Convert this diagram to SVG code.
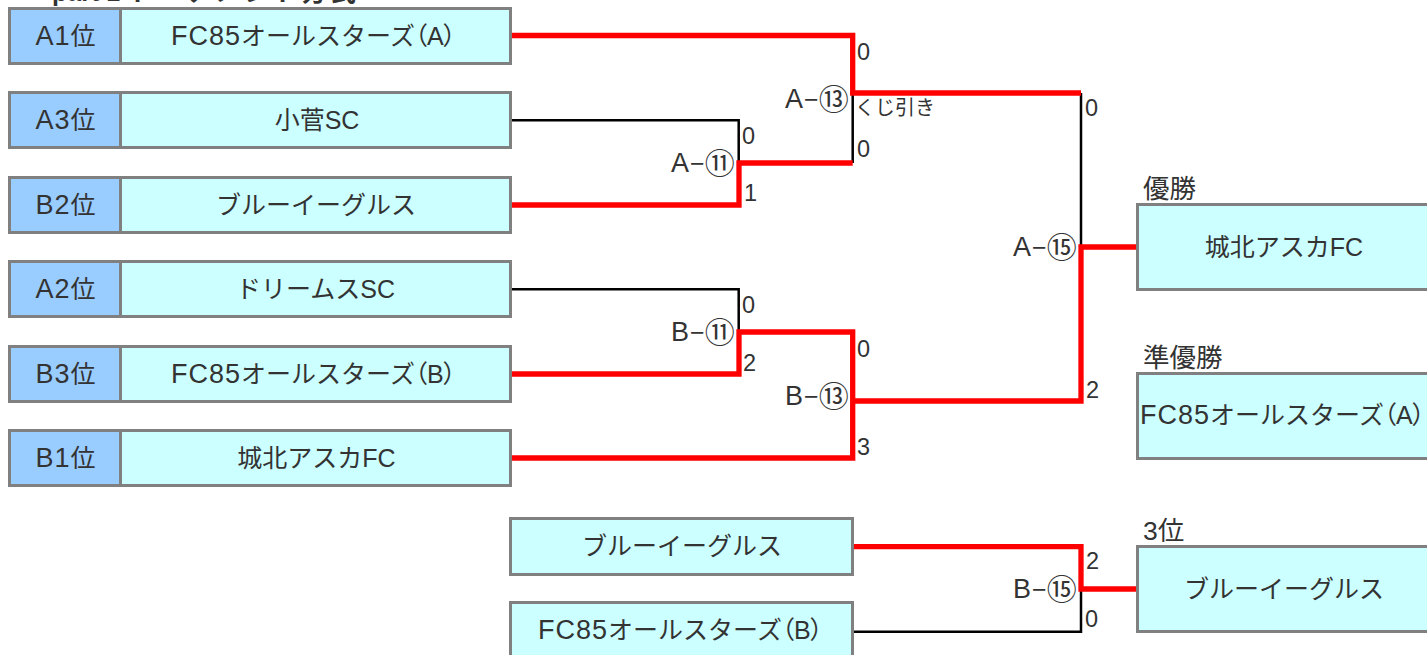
<svg xmlns="http://www.w3.org/2000/svg" width="1427" height="655" viewBox="0 0 1427 655">
<style>
text{font-family:"Liberation Sans","Noto Sans CJK JP",sans-serif;fill:#333;font-size:25px}
.m{text-anchor:middle}
.L{font-size:27px;letter-spacing:1px}
.c{font-size:30px}
.s{font-size:23.500px}
.j{font-size:20px}
.h{font-size:26.500px}
.t{font-weight:bold;font-size:25px}
.b{fill:#ccffff;stroke:#808080;stroke-width:3}
.l{fill:#99ccff;stroke:#808080;stroke-width:3}
.k{fill:none;stroke:#000;stroke-width:2.500}
.r{fill:none;stroke:#f00;stroke-width:5.300}
</style>
<rect width="1427" height="655" fill="#fff"/>
<text y="1" class="t"><tspan x="19" font-size="30">●</tspan><tspan x="52">part 1</tspan><tspan x="128" letter-spacing="4">トーナメント方式</tspan></text>
<g id="connectors">
<path class="k" d="M510 120.300H738.700V163M510 289.300H738.700V332M852.700 93V163M852.700 332V401M1081 93V247M852 631.700H1081V589"/>
<path class="r" d="M510 35.500H852.700V93H1081M510 205H739V163H852.700M510 374H739V332H852.700V401M510 458H852.700V401H1081V247H1138M852 546.700H1081V589H1138"/>
</g>
<g id="n1"><rect class="l" x="9.500" y="8.500" width="111" height="55"/><rect class="b" x="120.500" y="8.500" width="390" height="55"/><text class="m" x="65.500" y="45"><tspan class="L">A1</tspan>位</text><text x="171" y="45"><tspan class="L">FC85</tspan><tspan dx="0 0 0 0 0 0 0 -12 -1 -1">オールスターズ（A）</tspan></text></g>
<g id="n2"><rect class="l" x="9.500" y="92.500" width="111" height="55"/><rect class="b" x="120.500" y="92.500" width="390" height="55"/><text class="m" x="65.500" y="129"><tspan class="L">A3</tspan>位</text><text class="m" x="317" y="129">小菅SC</text></g>
<g id="n3"><rect class="l" x="9.500" y="177.500" width="111" height="55"/><rect class="b" x="120.500" y="177.500" width="390" height="55"/><text class="m" x="65.500" y="214"><tspan class="L">B2</tspan>位</text><text class="m" x="316" y="214">ブルーイーグルス</text></g>
<g id="n4"><rect class="l" x="9.500" y="261.500" width="111" height="55"/><rect class="b" x="120.500" y="261.500" width="390" height="55"/><text class="m" x="65.500" y="298"><tspan class="L">A2</tspan>位</text><text class="m" x="315.500" y="298">ドリームスSC</text></g>
<g id="n5"><rect class="l" x="9.500" y="346.500" width="111" height="55"/><rect class="b" x="120.500" y="346.500" width="390" height="55"/><text class="m" x="65.500" y="383"><tspan class="L">B3</tspan>位</text><text x="171" y="383"><tspan class="L">FC85</tspan><tspan dx="0 0 0 0 0 0 0 -12 -1 -1">オールスターズ（B）</tspan></text></g>
<g id="n6"><rect class="l" x="9.500" y="430.500" width="111" height="55"/><rect class="b" x="120.500" y="430.500" width="390" height="55"/><text class="m" x="65.500" y="467"><tspan class="L">B1</tspan>位</text><text class="m" x="316.500" y="467">城北アスカFC</text></g>
<g id="n7"><rect class="b" x="510.500" y="518.500" width="342" height="56"/><text class="m" x="682" y="555">ブルーイーグルス</text></g>
<g id="n8"><rect class="b" x="510.500" y="602.500" width="342" height="56"/><text x="538" y="639"><tspan class="L">FC85</tspan><tspan dx="0 0 0 0 0 0 0 -12 -1 -1">オールスターズ（B）</tspan></text></g>
<g id="n9"><text x="1143" y="198" class="h">優勝</text><rect class="b" x="1137.500" y="204.500" width="296" height="85"/><text class="m" x="1284" y="256">城北アスカFC</text></g>
<g id="n10"><text x="1143" y="367" class="h">準優勝</text><rect class="b" x="1137.500" y="373.500" width="296" height="85"/><text x="1140" y="424"><tspan class="L">FC85</tspan><tspan dx="0 0 0 0 0 0 0 -12 -1 -1">オールスターズ（A）</tspan></text></g>
<g id="n11"><text x="1143" y="540" class="h">3位</text><rect class="b" x="1137.500" y="546.500" width="296" height="85"/><text class="m" x="1284" y="598">ブルーイーグルス</text></g>
<g id="labels">
<text x="785" y="108"><tspan class="L">A</tspan>−<tspan class="c" dy="2">⑬</tspan></text>
<text x="671" y="172"><tspan class="L">A</tspan>−<tspan class="c" dy="2">⑪</tspan></text>
<text x="671" y="341"><tspan class="L">B</tspan>−<tspan class="c" dy="2">⑪</tspan></text>
<text x="785" y="405"><tspan class="L">B</tspan>−<tspan class="c" dy="2">⑬</tspan></text>
<text x="1013" y="256"><tspan class="L">A</tspan>−<tspan class="c" dy="2">⑮</tspan></text>
<text x="1013" y="598"><tspan class="L">B</tspan>−<tspan class="c" dy="2">⑮</tspan></text>
<text class="s" x="857" y="60">0</text><text class="j" x="855" y="115">くじ引き</text><text class="s" x="857" y="157">0</text><text class="s" x="742" y="144">0</text><text class="s" x="744" y="201">1</text><text class="s" x="742" y="313">0</text><text class="s" x="743" y="371">2</text><text class="s" x="857" y="357">0</text><text class="s" x="857" y="455">3</text><text class="s" x="1085" y="116">0</text><text class="s" x="1086" y="398">2</text><text class="s" x="1086" y="569">2</text><text class="s" x="1085" y="627">0</text>
</g>
</svg>
